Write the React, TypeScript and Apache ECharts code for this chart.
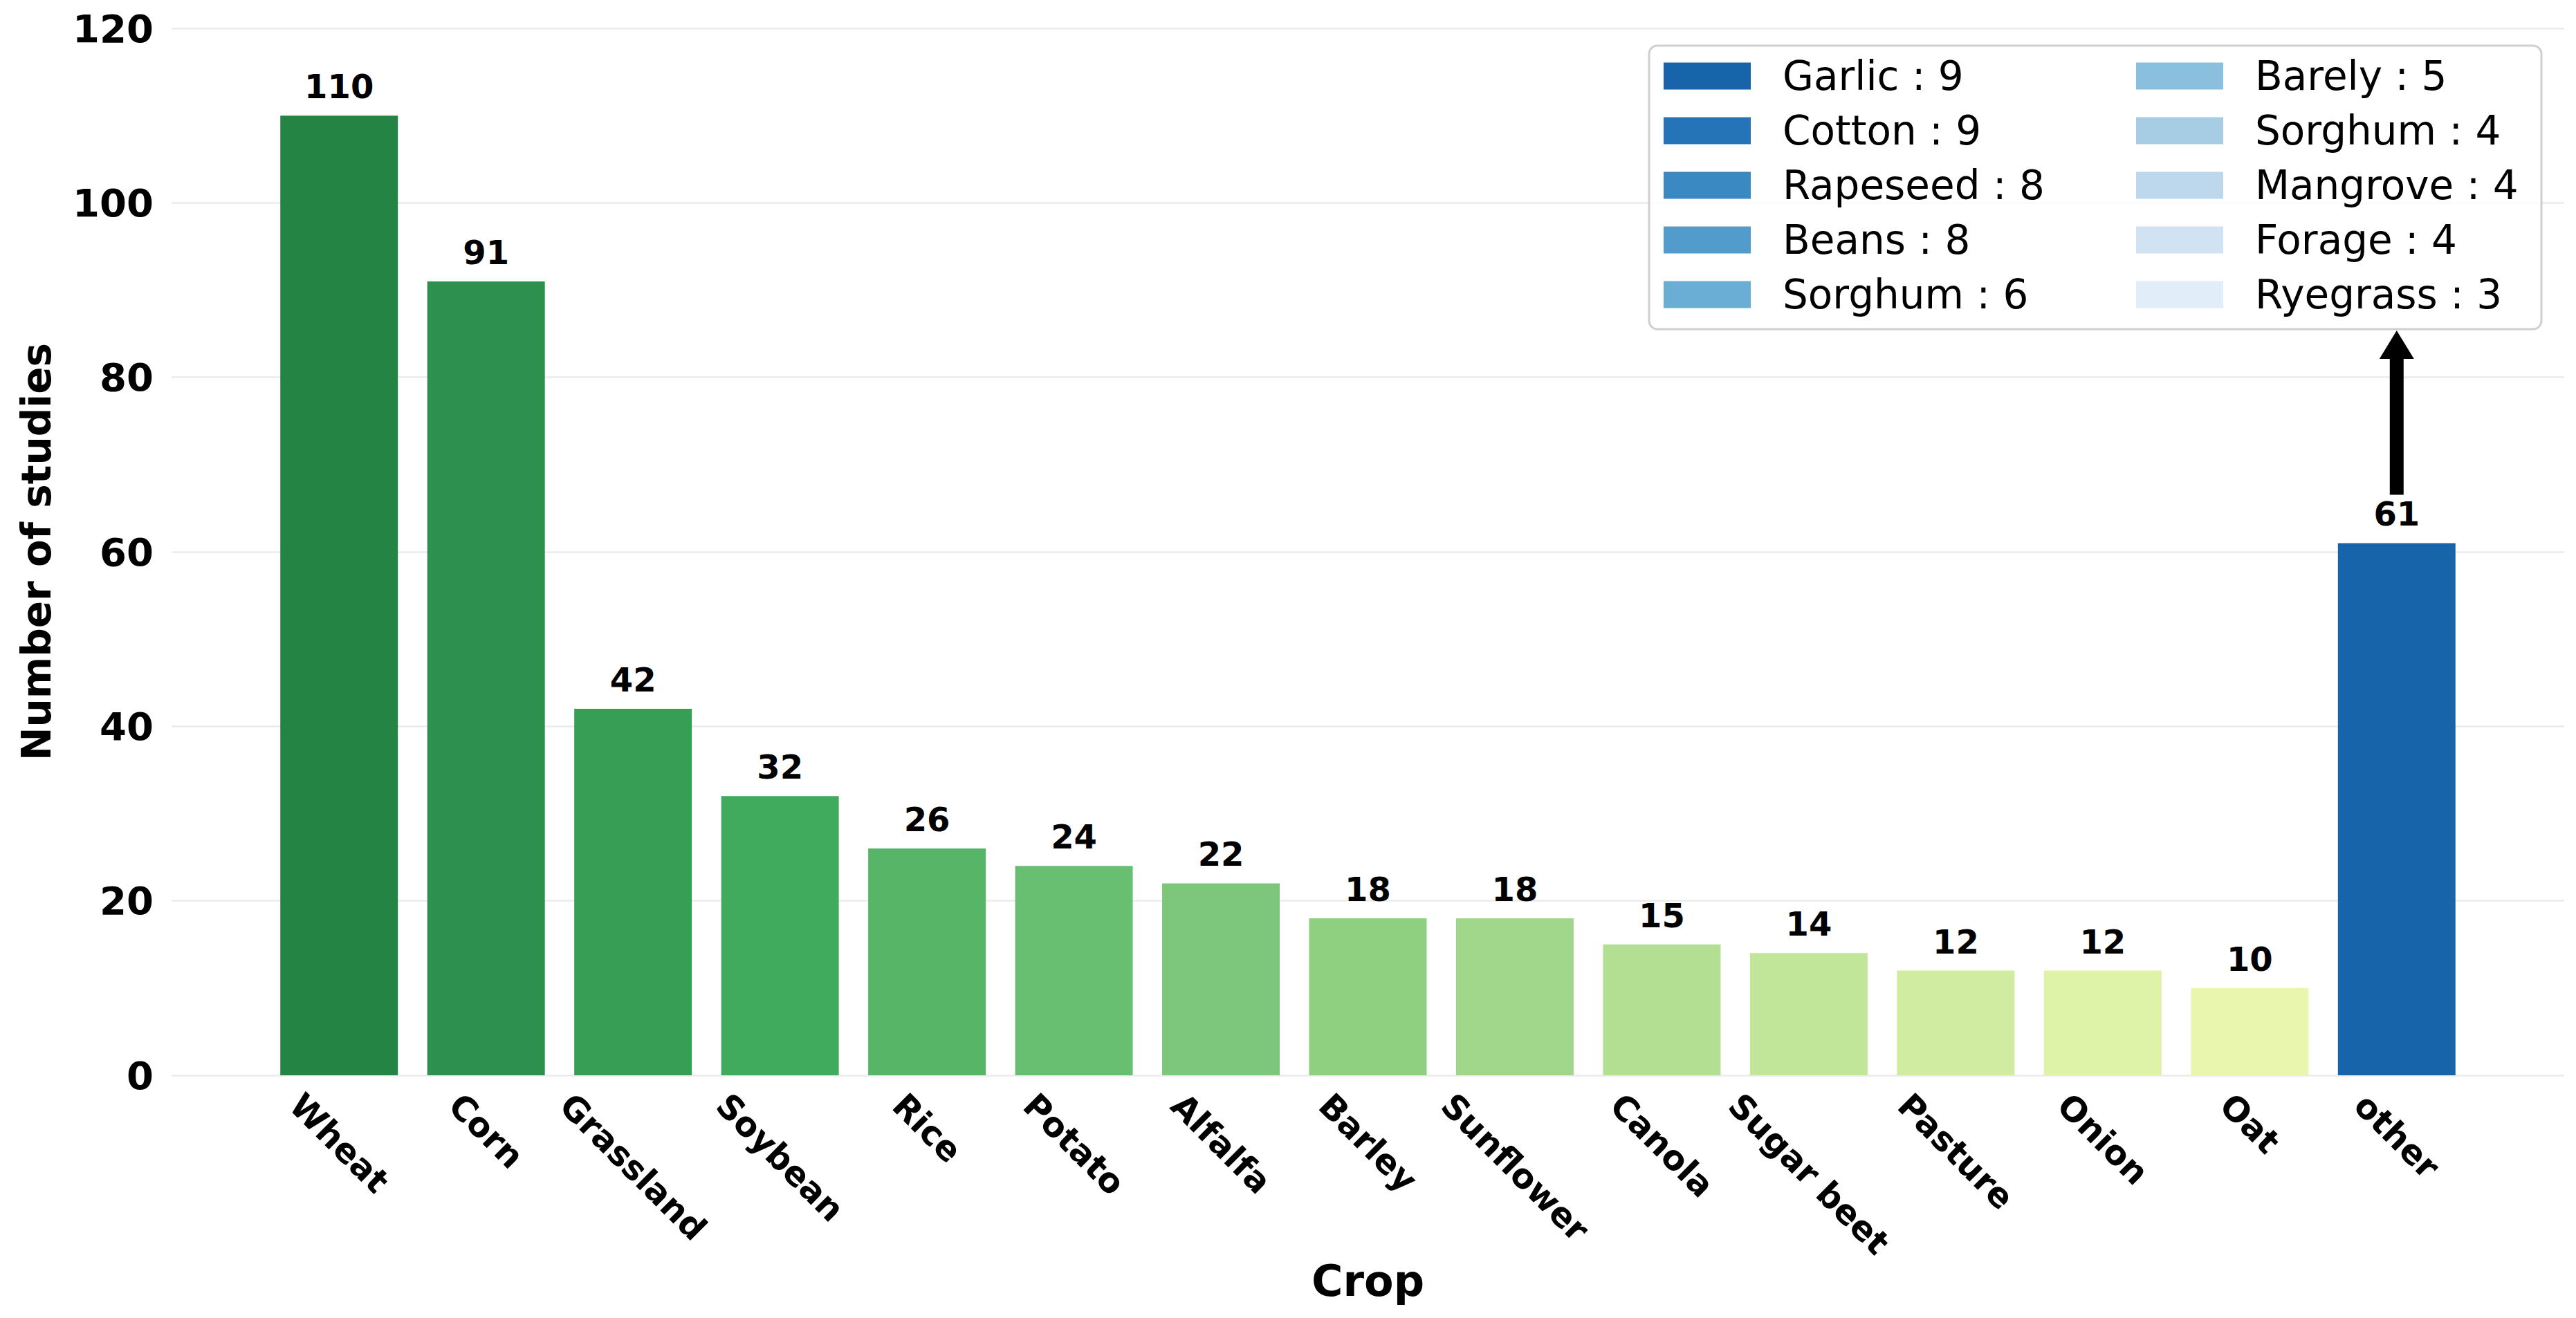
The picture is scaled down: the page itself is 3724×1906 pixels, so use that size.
import React, { useEffect, useRef } from 'react';
import * as echarts from 'echarts';

// Number of studies per crop
const crops = [
  'Wheat', 'Corn', 'Grassland', 'Soybean', 'Rice', 'Potato', 'Alfalfa', 'Barley',
  'Sunflower', 'Canola', 'Sugar beet', 'Pasture', 'Onion', 'Oat', 'other',
];
const studyCounts = [110, 91, 42, 32, 26, 24, 22, 18, 18, 15, 14, 12, 12, 10, 61];

// Breakdown of the "other" group
const otherCrops = [
  'Garlic', 'Cotton', 'Rapeseed', 'Beans', 'Sorghum',
  'Barely', 'Sorghum', 'Mangrove', 'Forage', 'Ryegrass',
];
const otherCounts = [9, 9, 8, 8, 6, 5, 4, 4, 4, 3];

// Value axis ticks
const yMin = 0;
const yMax = 120;
const yStep = 20;

// Palettes
const cropColors = [
  '#238443', '#2d904e', '#379e55', '#41ab5d', '#56b567', '#69bf71', '#7cc77b',
  '#8ecf80', '#a0d78a', '#b2df92', '#c2e699', '#d0eca1', '#def3a8', '#e9f6ae', '#1764ab',
];
const otherColors = [
  '#1764ab', '#2474b7', '#3b89c3', '#519ccc', '#6aaed6',
  '#8abfdd', '#a6cde3', '#bdd7ec', '#d1e2f2', '#e1edf8',
];

const WIDTH = 3724;
const HEIGHT = 1906;
const GRID = { left: 248, right: 17, top: 41, bottom: 351 };
const FONT = '"DejaVu Sans", "Liberation Sans", sans-serif';
const X_MIN = -1.14;
const X_MAX = 15.14;
const X_LABEL_SIZE = 49;
const LEGEND_FONT = 58;

const LEGEND_BOX = { x: 2384, y: 66, w: 1290, h: 410 };

export default function App() {
  const ref = useRef<HTMLDivElement | null>(null);

  useEffect(() => {
    const el = ref.current;
    if (!el) return;
    const chart = echarts.init(el, null, { renderer: 'svg' });

    const unitPx = (WIDTH - GRID.left - GRID.right) / (X_MAX - X_MIN);
    const legendNames = otherCrops.map((n, i) => `${n} : ${otherCounts[i]}`);

    const legendCommon = {
      orient: 'vertical' as const,
      top: 110 - LEGEND_FONT / 2,
      padding: 0,
      itemWidth: 126,
      itemHeight: 39,
      itemGap: 79 - LEGEND_FONT,
      icon: 'rect',
      selectedMode: false,
      z: 5,
      textStyle: {
        fontSize: LEGEND_FONT,
        fontFamily: FONT,
        color: '#000',
        padding: [0, 0, 0, 41],
      },
    };

    const option: any = {
      animation: false,
      backgroundColor: '#ffffff',
      grid: { ...GRID, containLabel: false },
      xAxis: {
        type: 'value',
        min: X_MIN,
        max: X_MAX,
        axisLine: { show: false },
        axisTick: { show: false },
        axisLabel: { show: false },
        splitLine: { show: false },
        name: 'Crop',
        nameLocation: 'middle',
        nameGap: 266,
        nameTextStyle: { fontSize: 62, fontWeight: 'bold', fontFamily: FONT, color: '#000' },
      },
      yAxis: {
        type: 'value',
        min: yMin,
        max: yMax,
        interval: yStep,
        axisLine: { show: false },
        axisTick: { show: false },
        axisLabel: { fontSize: 56, fontWeight: 'bold', fontFamily: FONT, color: '#000', margin: 26 },
        splitLine: { lineStyle: { color: '#ebebeb', width: 2.5 } },
        name: 'Number of studies',
        nameLocation: 'middle',
        nameGap: 166,
        nameTextStyle: { fontSize: 58, fontWeight: 'bold', fontFamily: FONT, color: '#000' },
      },
      legend: [
        { ...legendCommon, left: 2405, data: legendNames.slice(0, 5) },
        { ...legendCommon, left: 3088, data: legendNames.slice(5) },
      ],
      series: [
        {
          type: 'bar',
          name: 'Studies',
          barWidth: 0.8 * unitPx,
          data: studyCounts.map((v, i) => ({
            value: [i, v],
            itemStyle: { color: cropColors[i] },
          })),
          label: {
            show: true,
            position: 'top',
            distance: 18,
            formatter: (p: any) => String(p.value[1]),
            fontSize: 48,
            fontWeight: 'bold',
            fontFamily: FONT,
            color: '#000',
          },
        },
        ...legendNames.map((n, i) => ({
          type: 'scatter',
          name: n,
          data: [],
          itemStyle: { color: otherColors[i], opacity: 1 },
        })),
      ],
    };

    chart.setOption(option);

    // Rotated category labels, each centred under its bar
    const ctx = document.createElement('canvas').getContext('2d');
    const font = `bold ${X_LABEL_SIZE}px ${FONT}`;
    if (ctx) ctx.font = font;
    const elements: any[] = [];
    crops.forEach((c, i) => {
      const [px, py] = chart.convertToPixel({ xAxisIndex: 0, yAxisIndex: 0 }, [i, 0]) as number[];
      const w = ctx ? ctx.measureText(c).width : c.length * X_LABEL_SIZE * 0.65;
      const top = py + 18;
      elements.push({
        type: 'text',
        x: px,
        y: top + 0.3536 * (w + X_LABEL_SIZE),
        rotation: -Math.PI / 4,
        z: 6,
        style: {
          text: c,
          fontSize: X_LABEL_SIZE,
          fontWeight: 'bold',
          fontFamily: FONT,
          fill: '#000',
          align: 'center',
          verticalAlign: 'middle',
          textAlign: 'center',
          textVerticalAlign: 'middle',
        },
      });
    });

    // Frame around the breakdown legend
    elements.push({
      type: 'rect',
      z: 3,
      shape: { x: LEGEND_BOX.x, y: LEGEND_BOX.y, width: LEGEND_BOX.w, height: LEGEND_BOX.h, r: 12 },
      style: { fill: 'rgba(255,255,255,0.8)', stroke: '#cfcfcf', lineWidth: 3 },
    });

    // Arrow from the "other" bar up to its breakdown
    const last = crops.length - 1;
    const [ax, ay] = chart.convertToPixel({ xAxisIndex: 0, yAxisIndex: 0 }, [last, studyCounts[last]]) as number[];
    const headTop = LEGEND_BOX.y + LEGEND_BOX.h + 2;
    const headBase = headTop + 41;
    const shaftBottom = ay - 70;
    elements.push({
      type: 'rect',
      z: 10,
      shape: { x: ax - 10, y: headBase - 1, width: 20, height: shaftBottom - headBase + 1 },
      style: { fill: '#000' },
    });
    elements.push({
      type: 'polygon',
      z: 10,
      shape: { points: [[ax - 25, headBase], [ax + 25, headBase], [ax, headTop]] },
      style: { fill: '#000' },
    });

    chart.setOption({ graphic: { elements } });

    return () => {
      chart.dispose();
    };
  }, []);

  return (
    <div
      ref={ref}
      style={{ position: 'fixed', left: 0, top: 0, width: WIDTH, height: HEIGHT, background: '#fff' }}
    />
  );
}
